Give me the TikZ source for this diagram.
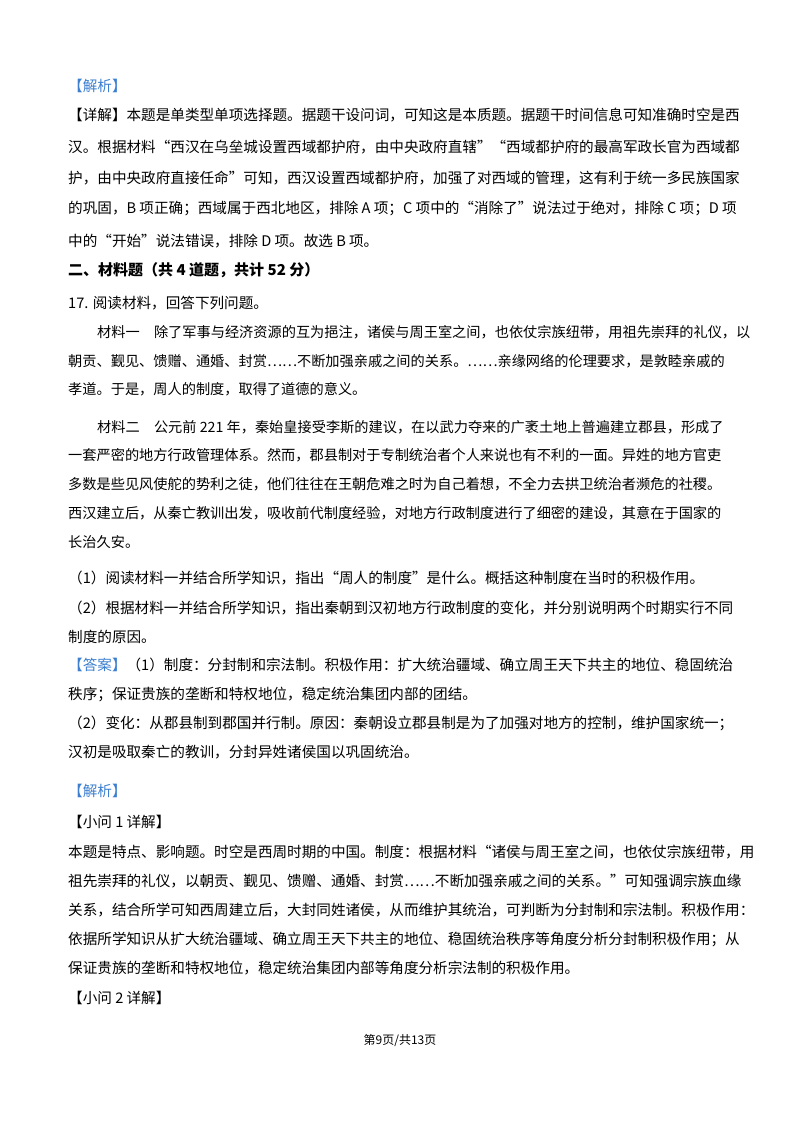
\documentclass[tikz,border=0pt]{standalone}
\usepackage{fontspec}
\setmainfont{Noto Sans CJK SC}
\newfontfamily\cjk{Noto Sans CJK SC}
\definecolor{jx}{HTML}{3C7FD0}
\begin{document}
\begin{tikzpicture}[x=1pt,y=-1pt,
 ln/.style={anchor=west,inner sep=0pt,font=\fontsize{14.6}{16}\selectfont},
 kl/.style={ln,font=\fontsize{14.2}{16}\selectfont}]
\useasboundingbox[fill=white] (0,0) rectangle (800,1132);
\node[ln,text=jx] (a1) at (68,86) {【解析】};
\node[ln] (a2) at (68,115) {【详解】本题是单类型单项选择题。据题干设问词，可知这是本质题。据题干时间信息可知准确时空是西};
\node[ln] (a3) at (68,147) {汉。根据材料“西汉在乌垒城设置西域都护府，由中央政府直辖”“西域都护府的最高军政长官为西域都};
\node[ln] (a4) at (68,178) {护，由中央政府直接任命”可知，西汉设置西域都护府，加强了对西域的管理，这有利于统一多民族国家};
\node[ln] (a5) at (68,208) {的巩固，B 项正确；西域属于西北地区，排除 A 项；C 项中的“消除了”说法过于绝对，排除 C 项；D 项};
\node[ln] (a6) at (68,241) {中的“开始”说法错误，排除 D 项。故选 B 项。};
\node[ln,font=\fontsize{15}{16}\bfseries\selectfont] (h) at (68,270) {二、材料题（共 4 道题，共计 52 分）};
\node[ln] (q) at (68,303) {17. 阅读材料，回答下列问题。};
\node[kl] (m1) at (97,332) {材料一\quad 除了军事与经济资源的互为挹注，诸侯与周王室之间，也依仗宗族纽带，用祖先崇拜的礼仪，以};
\node[kl] (m2) at (68,361) {朝贡、觐见、馈赠、通婚、封赏……不断加强亲戚之间的关系。……亲缘网络的伦理要求，是敦睦亲戚的};
\node[kl] (m3) at (68,389) {孝道。于是，周人的制度，取得了道德的意义。};
\node[kl] (m4) at (97,427) {材料二\quad 公元前 221 年，秦始皇接受李斯的建议，在以武力夺来的广袤土地上普遍建立郡县，形成了};
\node[kl] (m5) at (68,455) {一套严密的地方行政管理体系。然而，郡县制对于专制统治者个人来说也有不利的一面。异姓的地方官吏};
\node[kl] (m6) at (68,484) {多数是些见风使舵的势利之徒，他们往往在王朝危难之时为自己着想，不全力去拱卫统治者濒危的社稷。};
\node[kl] (m7) at (68,513) {西汉建立后，从秦亡教训出发，吸收前代制度经验，对地方行政制度进行了细密的建设，其意在于国家的};
\node[kl] (m8) at (68,542) {长治久安。};
\node[ln] (p1) at (68,578) {（1）阅读材料一并结合所学知识，指出“周人的制度”是什么。概括这种制度在当时的积极作用。};
\node[ln] (p2) at (68,608) {（2）根据材料一并结合所学知识，指出秦朝到汉初地方行政制度的变化，并分别说明两个时期实行不同};
\node[ln] (p3) at (68,637) {制度的原因。};
\node[ln] (d1) at (68,665) {\textcolor{jx}{【答案】}（1）制度：分封制和宗法制。积极作用：扩大统治疆域、确立周王天下共主的地位、稳固统治};
\node[ln] (d2) at (68,694) {秩序；保证贵族的垄断和特权地位，稳定统治集团内部的团结。};
\node[ln] (d3) at (68,723) {（2）变化：从郡县制到郡国并行制。原因：秦朝设立郡县制是为了加强对地方的控制，维护国家统一；};
\node[ln] (d4) at (68,752) {汉初是吸取秦亡的教训，分封异姓诸侯国以巩固统治。};
\node[ln,text=jx] (j) at (68,791) {【解析】};
\node[ln] (x1) at (68,822) {【小问 1 详解】};
\node[ln] (b1) at (68,852) {本题是特点、影响题。时空是西周时期的中国。制度：根据材料“诸侯与周王室之间，也依仗宗族纽带，用};
\node[ln] (b2) at (68,881) {祖先崇拜的礼仪，以朝贡、觐见、馈赠、通婚、封赏……不断加强亲戚之间的关系。”可知强调宗族血缘};
\node[ln] (b3) at (68,910) {关系，结合所学可知西周建立后，大封同姓诸侯，从而维护其统治，可判断为分封制和宗法制。积极作用：};
\node[ln] (b4) at (68,939) {依据所学知识从扩大统治疆域、确立周王天下共主的地位、稳固统治秩序等角度分析分封制积极作用；从};
\node[ln] (b5) at (68,968) {保证贵族的垄断和特权地位，稳定统治集团内部等角度分析宗法制的积极作用。};
\node[ln] (x2) at (68,998) {【小问 2 详解】};
\node[anchor=center,inner sep=0pt,font=\fontsize{12}{14}\selectfont] (ft) at (400,1040) {第9页/共13页};
\end{tikzpicture}
\end{document}
